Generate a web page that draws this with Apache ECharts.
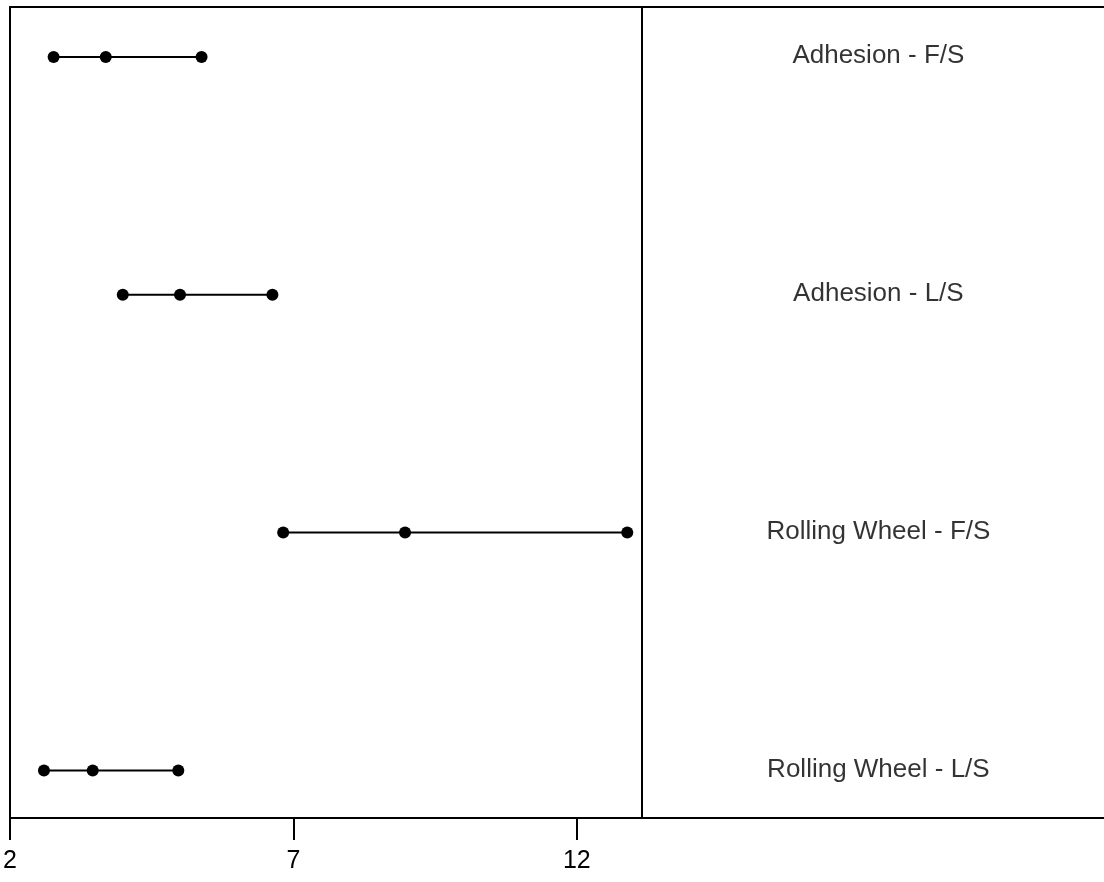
<!DOCTYPE html>
<html>
<head>
<meta charset="utf-8">
<script src="https://cdn.jsdelivr.net/npm/echarts@6/dist/echarts.min.js"></script>
<style>
  html, body { margin: 0; padding: 0; background: #fff; }
  #chart { width: 1104px; height: 882px; }
</style>
</head>
<body>
<div id="chart"></div>
<script>
// Test groups, top to bottom
const categories = ['Adhesion - F/S', 'Adhesion - L/S', 'Rolling Wheel - F/S', 'Rolling Wheel - L/S'];
// Low, middle and high value for each group
const lowValues = [2.77, 3.99, 6.82, 2.60];
const midValues = [3.69, 5.00, 8.97, 3.46];
const highValues = [5.38, 6.63, 12.89, 4.97];
// Tick labels on the value axis
const tickValues = [2, 7, 12];
// Divider between the plot and the group names
const dividerValue = 13.15;
// Horizontal position of the group names
const nameColumnValue = 17.32;

const chart = echarts.init(document.getElementById('chart'), null, { renderer: 'canvas' });

const rangeSeries = categories.map((name, i) => ({
  name: name,
  type: 'line',
  xAxisIndex: 0,
  data: [[lowValues[i], i + 1], [midValues[i], i + 1], [highValues[i], i + 1]],
  symbol: 'circle',
  symbolSize: 12,
  lineStyle: { color: '#000', width: 2 },
  itemStyle: { color: '#000' },
  silent: true,
  animation: false
}));

const nameSeries = {
  type: 'scatter',
  xAxisIndex: 0,
  data: categories.map((name, i) => ({ value: [nameColumnValue, i + 1], name: name })),
  symbolSize: 0,
  label: {
    show: true,
    position: 'inside',
    formatter: p => p.name,
    color: '#000',
    textBorderWidth: 0,
    fontFamily: 'Liberation Sans, Arial, sans-serif',
    fontSize: 26,
    offset: [0, -1]
  },
  markLine: {
    silent: true,
    symbol: 'none',
    label: { show: false },
    lineStyle: { color: '#000', width: 2, type: 'solid' },
    data: [{ xAxis: dividerValue }]
  },
  animation: false
};

chart.setOption({
  backgroundColor: '#fff',
  animation: false,
  grid: { left: 9, right: 0, top: 7, bottom: 64 },
  xAxis: [
    {
      type: 'value',
      position: 'bottom',
      min: 2,
      max: 21.3,
      splitLine: { show: false },
      axisLine: { show: true, lineStyle: { color: '#000', width: 2 } },
      axisTick: { show: true, customValues: tickValues, length: 22, inside: false, lineStyle: { color: '#000', width: 2 } },
      axisLabel: {
        customValues: tickValues,
        color: '#000',
        fontFamily: 'Liberation Sans Narrow, Liberation Sans, Arial, sans-serif',
        fontSize: 25,
        margin: 31
      }
    },
    {
      type: 'value',
      position: 'top',
      min: 2,
      max: 21.3,
      splitLine: { show: false },
      axisLine: { show: true, lineStyle: { color: '#000', width: 2 } },
      axisTick: { show: false },
      axisLabel: { show: false }
    }
  ],
  yAxis: {
    type: 'value',
    inverse: true,
    min: 0.79,
    max: 4.2,
    splitLine: { show: false },
    axisLine: { show: true, onZero: false, lineStyle: { color: '#000', width: 2 } },
    axisTick: { show: false },
    axisLabel: { show: false }
  },
  series: [...rangeSeries, nameSeries]
});
</script>
</body>
</html>
